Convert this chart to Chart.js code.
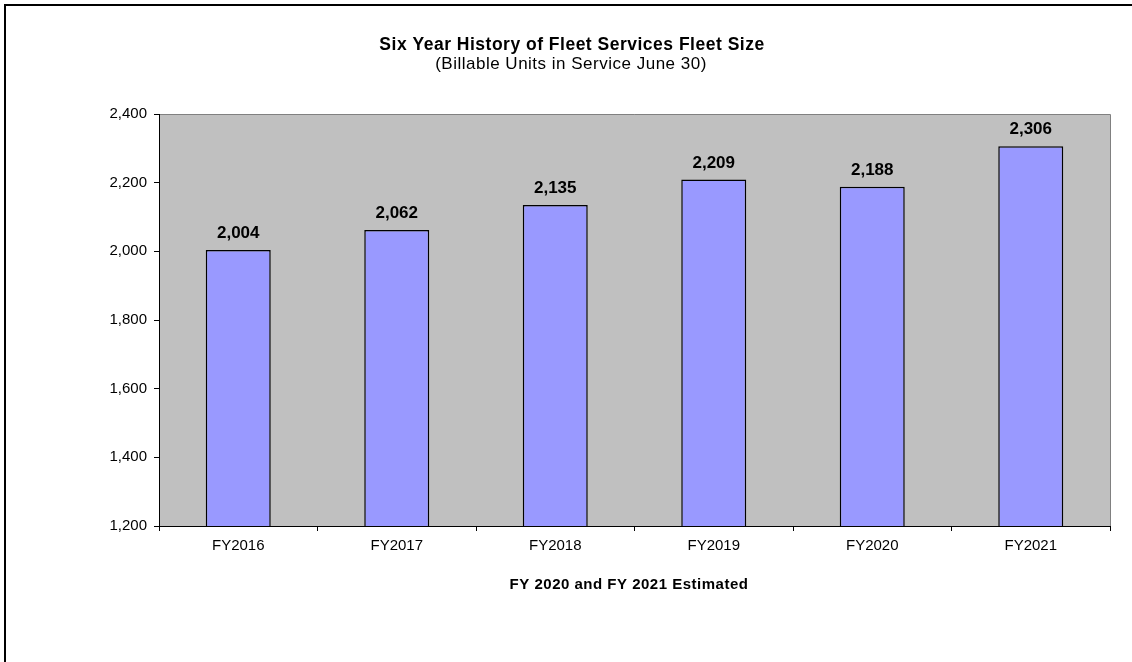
<!DOCTYPE html>
<html>
<head>
<meta charset="utf-8">
<title>Fleet Size</title>
<script src="https://cdn.jsdelivr.net/npm/chart.js@4"></script>
<style>
    html, body { margin: 0; padding: 0; background: #fff; }
    #wrap { width: 1132px; height: 662px; }
</style>
</head>
<body>
<div id="wrap"><canvas id="fleetChart" width="1132" height="662"></canvas></div>
<script>
// chart data
const years = ['FY2016', 'FY2017', 'FY2018', 'FY2019', 'FY2020', 'FY2021'];
const units = [2004, 2062, 2135, 2209, 2188, 2306];
const yTicks = [1200, 1400, 1600, 1800, 2000, 2200, 2400];

const titleText = 'Six Year History of Fleet Services Fleet Size';
const subtitleText = '(Billable Units in Service June 30)';
const noteText = 'FY 2020 and FY 2021 Estimated';

const FONT = '"Liberation Sans", Arial, sans-serif';

// gray plot area, outer frame, titles and value labels
const decorations = {
    id: 'decorations',
    beforeDraw(chart) {
        const ctx = chart.ctx;
        const a = chart.chartArea;
        ctx.save();
        ctx.fillStyle = '#fff';
        ctx.fillRect(0, 0, chart.width, chart.height);
        ctx.fillStyle = '#C0C0C0';
        ctx.fillRect(a.left, a.top, a.right - a.left, a.bottom - a.top);
        ctx.strokeStyle = '#808080';
        ctx.lineWidth = 1;
        ctx.beginPath();
        ctx.moveTo(a.left, a.top + 0.5);
        ctx.lineTo(a.right + 0.5, a.top + 0.5);
        ctx.lineTo(a.right + 0.5, a.bottom);
        ctx.stroke();
        // outer frame (right and bottom sides fall outside the picture)
        ctx.strokeStyle = '#000';
        ctx.lineWidth = 2;
        ctx.strokeRect(5, 5, 2000, 2000);
        ctx.restore();
    },
    afterDatasetsDraw(chart) {
        const ctx = chart.ctx;
        ctx.save();
        ctx.fillStyle = '#000';
        ctx.textAlign = 'center';
        ctx.textBaseline = 'alphabetic';
        ctx.font = 'bold 17px ' + FONT;
        chart.getDatasetMeta(0).data.forEach((bar, i) => {
            ctx.fillText(units[i].toLocaleString('en-US'), bar.x, bar.y - 12);
        });
        ctx.textBaseline = 'middle';
        ctx.letterSpacing = '0.5px';
        ctx.font = 'bold 17.5px ' + FONT;
        ctx.fillText(titleText, 572, 45);
        ctx.font = '17px ' + FONT;
        ctx.fillText(subtitleText, 571, 64);
        ctx.font = 'bold 15px ' + FONT;
        ctx.fillText(noteText, 629, 585);
        ctx.restore();
    }
};

const ctx = document.getElementById('fleetChart').getContext('2d');
const fleetChart = new Chart(ctx, {
    type: 'bar',
    data: {
        labels: years,
        datasets: [{
            data: units,
            backgroundColor: '#9999FF',
            borderColor: '#000',
            borderWidth: 1.5,
            borderSkipped: false,
            barPercentage: 0.41,
            categoryPercentage: 1
        }]
    },
    options: {
        responsive: false,
        animation: false,
        layout: { padding: { top: 114, right: 22, bottom: 0, left: 0 } },
        plugins: {
            legend: { display: false },
            tooltip: { enabled: false }
        },
        scales: {
            x: {
                grid: { drawOnChartArea: false, drawTicks: true, tickLength: 5, color: '#000', offset: true },
                border: { display: true, color: '#000', width: 1 },
                ticks: { color: '#000', padding: 6, font: { family: FONT, size: 15 }, maxRotation: 0 },
                afterFit(scale) { scale.height = 136; }
            },
            y: {
                min: yTicks[0],
                max: yTicks[yTicks.length - 1],
                afterBuildTicks(scale) { scale.ticks = yTicks.map(v => ({ value: v })); },
                grid: { drawOnChartArea: false, drawTicks: true, tickLength: 5, color: '#000' },
                border: { display: true, color: '#000', width: 1 },
                ticks: {
                    color: '#000',
                    padding: 7,
                    font: { family: FONT, size: 15 },
                    callback: v => v.toLocaleString('en-US')
                },
                afterFit(scale) { scale.width = 159; }
            }
        }
    },
    plugins: [decorations]
});
</script>
</body>
</html>
